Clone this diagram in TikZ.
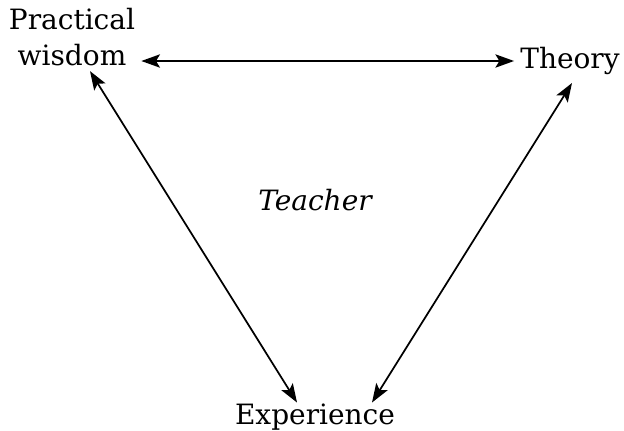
\documentclass[tikz,border=0pt]{standalone}
\usepackage{fontspec}
\setmainfont{DejaVu Serif}
\usepackage{tikz}
\usetikzlibrary{arrows.meta,positioning,calc}

\begin{document}
\begin{tikzpicture}[x=0.75pt,y=0.75pt,
    label/.style={font=\fontsize{21}{27}\selectfont, inner sep=0pt, align=center},
    link/.style={{Stealth[length=14pt,width=10pt,inset=3pt]}-{Stealth[length=14pt,width=10pt,inset=3pt]}, line width=1.3pt}]
    \useasboundingbox (0,0) rectangle (624,430);

    % Corners
    \node[label] (wisdom) at (72,393) {Practical\\wisdom};
    \node[label] (theory) at (570,369) {Theory};
    \node[label] (exp) at (315,13) {Experience};

    % Centre
    \node[label, font=\fontsize{21}{27}\selectfont\itshape] (teacher) at (315,230) {Teacher};

    % Arrows
    \draw[link] ($(wisdom.east)+(6,-24)$) -- ($(theory.west)+(-6,0)$);
    \draw[link] ($(wisdom.south)+(18,-5)$) -- ($(exp.north)+(-18,1)$);
    \draw[link] ($(theory.south)+(2,-8)$) -- ($(exp.north)+(57,1)$);
\end{tikzpicture}
\end{document}
